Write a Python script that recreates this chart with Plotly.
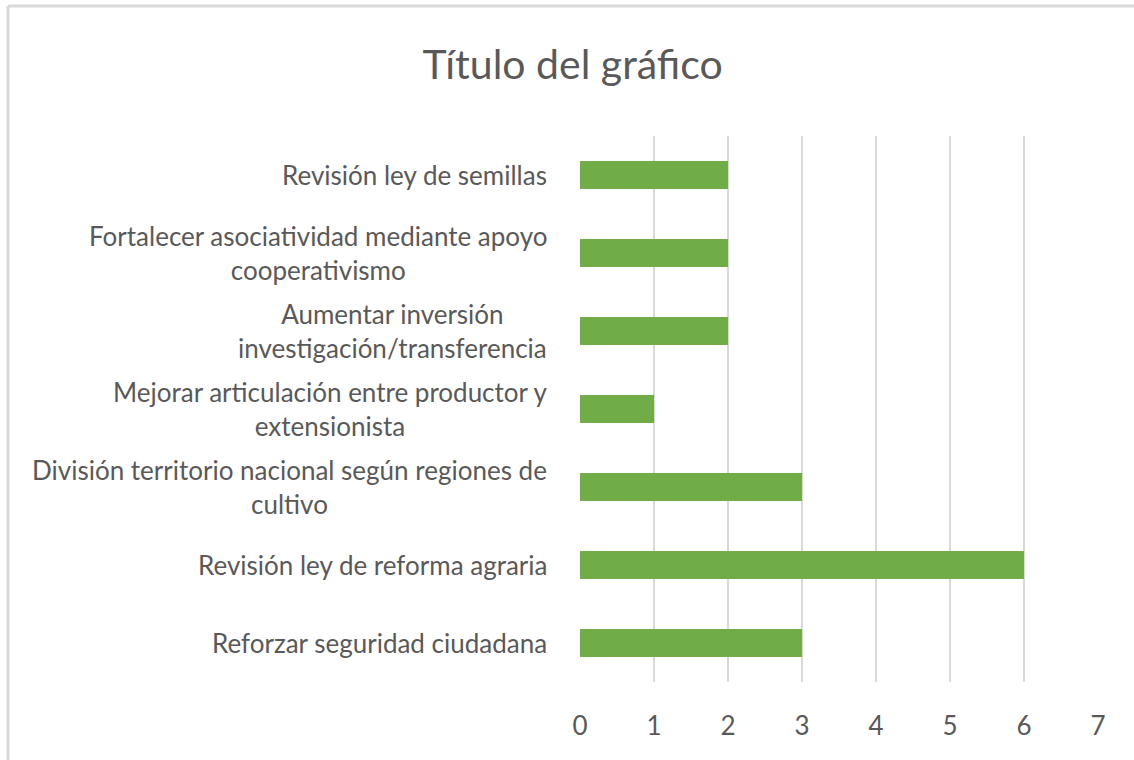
import plotly.graph_objects as go

categories = [
    "Revisión ley de semillas",
    "Fortalecer asociatividad mediante apoyo<br>cooperativismo",
    "Aumentar inversión<br>investigación/transferencia",
    "Mejorar articulación entre productor y<br>extensionista",
    "División territorio nacional según regiones de<br>cultivo",
    "Revisión ley de reforma agraria",
    "Reforzar seguridad ciudadana",
]
values = [2, 2, 2, 1, 3, 6, 3]
x_ticks = [0, 1, 2, 3, 4, 5, 6, 7]
title_text = "Título del gráfico"

FONT = "Lato, 'Open Sans', sans-serif"
TEXT_COLOR = "#595959"
GRID = "#d9d9d9"
BAR = "#70AD47"
LABEL_SIZE = 26

fig = go.Figure()
fig.add_trace(go.Bar(
    x=values,
    y=categories,
    orientation="h",
    marker=dict(color=BAR, line=dict(width=0)),
    hoverinfo="x+y",
))

# Category labels: centred multi-line text, right-aligned block next to the axis
annotations = []
for cat in categories:
    annotations.append(dict(
        x=0, y=cat, xref="x", yref="y",
        text=cat, showarrow=False,
        xanchor="right", yanchor="middle", align="center",
        xshift=-31,
        font=dict(family=FONT, size=LABEL_SIZE, color=TEXT_COLOR),
    ))

PW, PH = 1098 - 580, 682 - 136

fig.update_layout(
    width=1134, height=760,
    paper_bgcolor="white", plot_bgcolor="white",
    margin=dict(l=580, r=36, t=136, b=78),
    bargap=0.64,
    showlegend=False,
    title=dict(
        text=title_text, x=0.505, xanchor="center", y=0.915, yanchor="middle",
        font=dict(family=FONT, size=41, color=TEXT_COLOR),
    ),
    xaxis=dict(
        range=[0, 7], tickvals=x_ticks, showgrid=True, gridcolor=GRID, gridwidth=2,
        zeroline=False, showline=False, ticks="",
        tickfont=dict(family=FONT, size=LABEL_SIZE, color=TEXT_COLOR),
        ticklabelstandoff=26, fixedrange=True,
    ),
    yaxis=dict(
        categoryorder="array", categoryarray=categories, autorange="reversed",
        showticklabels=False, showgrid=False, zeroline=False, showline=False, ticks="",
        fixedrange=True,
    ),
    annotations=annotations,
    shapes=[
        dict(type="line", xref="paper", yref="paper",
             x0=(8 - 580) / PW, x1=(1140 - 580) / PW,
             y0=(682 - 6) / PH, y1=(682 - 6) / PH,
             line=dict(color=GRID, width=3)),
        dict(type="line", xref="paper", yref="paper",
             x0=(8 - 580) / PW, x1=(8 - 580) / PW,
             y0=(682 - 6) / PH, y1=(682 - 770) / PH,
             line=dict(color=GRID, width=3)),
    ],
)

fig.write_html("out.html", config={"displayModeBar": False},
               post_script="document.body.style.margin='0px';")
